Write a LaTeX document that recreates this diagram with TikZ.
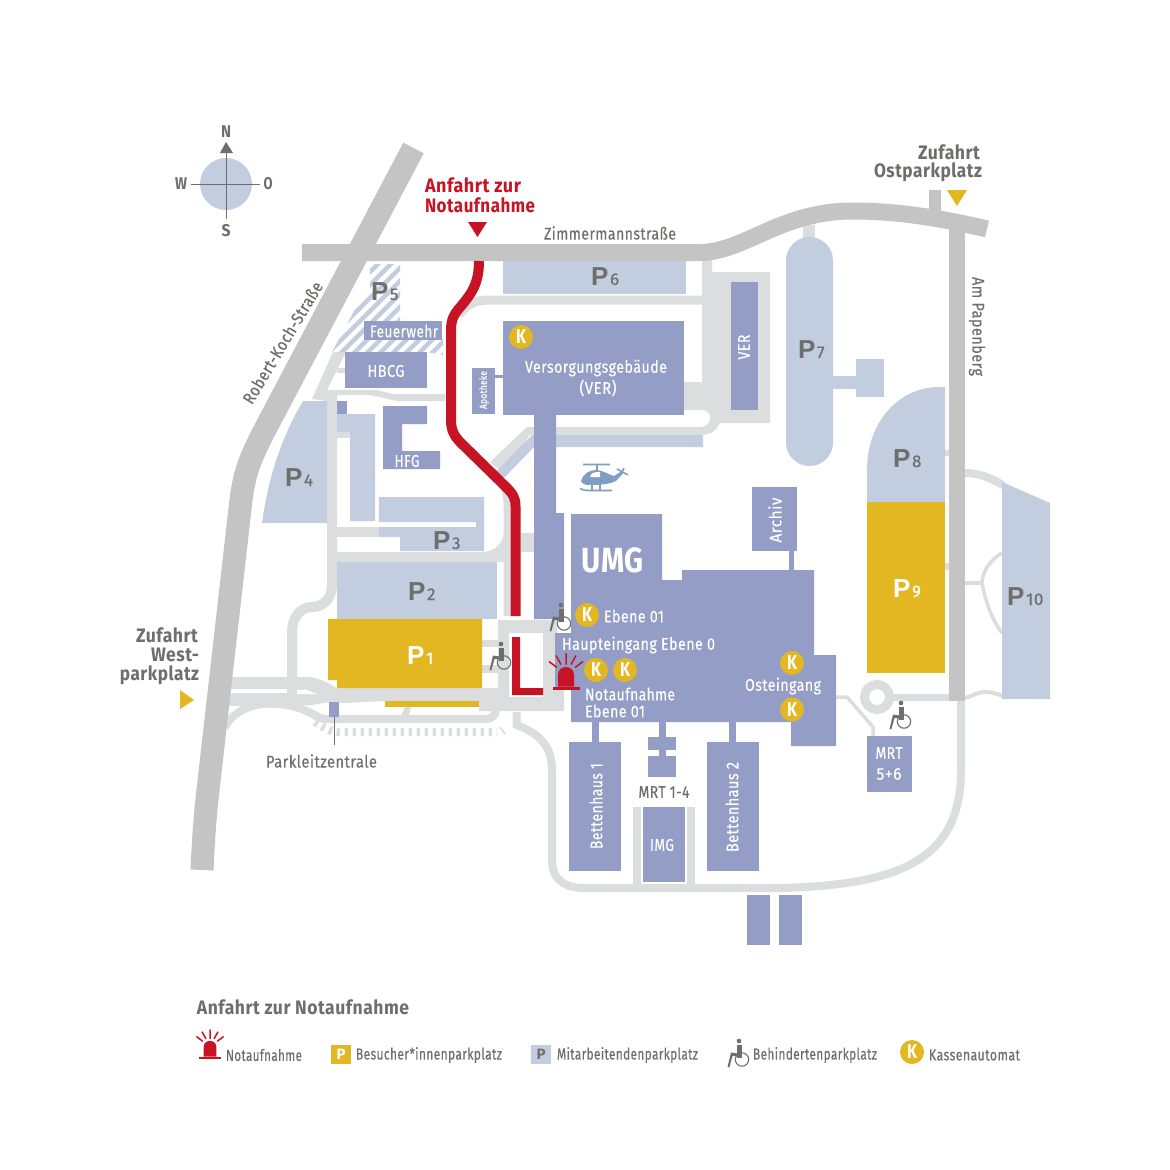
\documentclass[tikz,border=0pt]{standalone}
\usepackage{graphicx}
\usepackage{fontspec}
\setmainfont[LetterSpace=3,FakeBold=0.25,BoldFeatures={FakeBold=0}]{Fira Sans}
\newfontfamily\pfont{Liberation Sans}
\definecolor{bld}{HTML}{939DC6}
\definecolor{prk}{HTML}{C2CDDF}
\definecolor{lane}{HTML}{DCDDDE}
\definecolor{rd}{HTML}{C4C4C4}
\definecolor{gold}{HTML}{E2B721}
\definecolor{alarm}{HTML}{C61425}
\definecolor{txt}{HTML}{6E6E6D}
\definecolor{heli}{HTML}{7F9EC3}
\newcommand\W[2]{\resizebox{#1pt}{\height}{#2}}
\newcommand\plab[1]{{\pfont\bfseries\fontsize{26}{26}\selectfont P}\hspace{1.5pt}{\fontsize{17}{17}\selectfont #1}}
\tikzset{
  lbl/.style={inner sep=0pt,text=txt,font=\fontsize{17}{18}\selectfont},
  wlbl/.style={inner sep=0pt,text=white,font=\fontsize{17}{18}\selectfont},
  leglbl/.style={inner sep=0pt,text=txt,font=\fontsize{16}{17}\selectfont},
  head/.style={inner sep=0pt,text=txt,font=\bfseries\fontsize{19.5}{20}\selectfont},
  rhead/.style={inner sep=0pt,text=alarm,font=\bfseries\fontsize{19.5}{20}\selectfont},
  plot/.style={inner sep=0pt,anchor=base west,text=txt},
  kcirc/.style={circle,fill=gold,minimum size=24pt,inner sep=0pt,text=white,font=\bfseries\fontsize{20}{20}\selectfont},
  road/.style={draw=rd,line width=18pt,line cap=butt},
  lanepath/.style={draw=lane,line width=#1pt},
  chair/.pic={
    \fill[txt] (0,0) circle[radius=2.3pt];
    \fill[txt] (-2.5,3.5) rectangle (2.5,17);
    \fill[txt] (-8,11.5) -- (2.5,13) -- (2.5,15.5) -- (-6.5,15) -- (-9.7,26.5) -- (-11.5,26) -- cycle;
    \draw[txt,line width=1.1pt] (3,18.5) circle[radius=6.7pt];
  },
  beacon/.pic={
    \fill[alarm] (-13.5,15) rectangle (13.5,18.5);
    \fill[alarm] (-8,15) -- (-8,3.5) .. controls (-8,-2) and (-4,-4.5) .. (0,-4.5) .. controls (4,-4.5) and (8,-2) .. (8,3.5) -- (8,15) -- cycle;
    \draw[alarm,line width=1.5pt] (0,-18.5)--(0,-7) (-10,-16)--(-5,-7) (10,-16)--(5,-7) (-17,-10)--(-9,-4) (17,-10)--(9,-4);
  }
}
\newcommand\Kk{\W{10}{K}}
\begin{document}
\begin{tikzpicture}[x=1pt,y=-1pt]
\useasboundingbox (0,0) rectangle (1170,1170);
\fill[white] (0,0) rectangle (1170,1170);

% compass
\fill[prk] (226,184) circle[radius=26pt];
\draw[txt,line width=0.9pt] (226,150)--(226,219) (191,184)--(260,184);
\fill[txt] (226,142)--(233,153)--(220,153)--cycle;
\node[lbl,font=\bfseries\fontsize{17}{17}\selectfont] (north) at (226,132) {\W{10}{N}};
\node[lbl,font=\bfseries\fontsize{17}{17}\selectfont] (west) at (181,184) {\W{12}{W}};
\node[lbl,font=\bfseries\fontsize{17}{17}\selectfont] (east) at (268,184) {\W{9}{O}};
\node[lbl,font=\bfseries\fontsize{17}{17}\selectfont] (south) at (226,231) {\W{9}{S}};

% light lanes
\draw[lanepath=9] (459,315) .. controls (468,303) and (476,300) .. (490,300) -- (702,300);
\fill[lane] (702,260)--(712,260)--(712,272)--(770,272)--(770,423)--(720,423) .. controls (716,431) and (710,435) .. (700,435)--(556,435)--(530,435)--(502,472)--(490,462)--(527,427)--(700,427) .. controls (707,427) and (710,423) .. (710,418) .. controls (710,413) and (707,410) .. (702,410)--(684,410)--(684,382)--(702,382)--cycle;
\draw[lanepath=7] (490,468) .. controls (502,480) and (507,490) .. (507,505) -- (507,616);
\fill[prk] (556,435)--(703,435)--(703,447)--(556,447)--(534,447)--(503,479)--(496,472)--(532,435)--cycle;
\fill[lane] (521,533) rectangle (535,552);
% west part
\fill[lane] (333,352)--(346,352)--(327,390)--(377,390)--(393,394)--(445,394)--(445,401)--(397,401)--(370,395)--(337,395)--(337,401)--(327,401)--(312,399)--cycle;
\fill[lane] (337,368) rectangle (346,373);
\draw[lanepath=10] (332,400) -- (332,585) .. controls (332,600) and (322,607) .. (312,607) .. controls (300,607) and (292,618) .. (292,632) -- (292,684);
\fill[lane] (337,527) rectangle (381,537);
\fill[lane] (337,552) rectangle (506,562);
\fill[lane] (337,432) rectangle (351,438);
\fill[lane] (484,552) .. controls (495,551) and (504,543) .. (504,530) -- (507,562) -- (484,562) -- cycle;
% west entrance
\fill[lane] (228,677)--(305,677) .. controls (318,677) and (327,682) .. (337,688)--(498,688)--(498,701)--(385,701)--(345,703)--(330,702)--(312,705)--(228,706)--cycle;
\fill[white] (228,689) rectangle (287,693);
\fill[white] (297,690)--(306,689.5)--(317,694)--(297,694)--cycle;
\draw[lanepath=8] (225,727) .. controls (230,716) and (245,706) .. (262,704) .. controls (290,702) and (306,710) .. (320,718) .. controls (326,720) and (332,719) .. (340,719) -- (485,719) .. controls (492,719) and (495,716) .. (496,710);
\fill[lane] (405,707)--(411,707)--(409,716)--(401,716)--cycle;
\draw[lane,line width=8pt,dash pattern=on 3.4pt off 4.6pt] (315,722) .. controls (322,727) and (330,732) .. (338,732) -- (497,732);
\draw[lane,line width=1.6pt] (500,727)--(505,734);
% ER yard
\fill[lane,even odd rule] (498,620) -- (557,620) -- (557,690) -- (564,690) -- (564,711) -- (479,711) -- (479,701) -- (498,701) -- cycle (509,633) rectangle (543,697);
\fill[lane] (482,640) rectangle (498,647);
\fill[lane] (482,665) rectangle (498,673);
% east lanes
\draw[lanepath=8] (516.5,712) -- (516.5,725) .. controls (538,733) and (552,745) .. (552,770) -- (552,860) .. controls (552,880) and (565,888) .. (585,888) -- (650,888) -- (780,888) .. controls (900,885) and (961,860) .. (961,770) -- (961,700);
\fill[lane] (633,807) rectangle (641,888);
\fill[lane] (687,807) rectangle (695,888);
\fill[lane] (803,225) rectangle (815,240);
\draw[lanepath=9] (877,697) circle[radius=12.5pt];
\draw[lanepath=7] (889,697) -- (952,697);
\draw[lanepath=3.5] (830,697) -- (847,697) -- (873,727) -- (873,737);
\fill[lane] (945,450) rectangle (950,456);
\fill[lane] (945,563) rectangle (950,570);
\draw[lanepath=8] (965,473) .. controls (980,473) and (990,478) .. (1003,485);
\draw[lanepath=3.5] (965,583) -- (982,583);
\draw[lanepath=3.5] (1002,553) .. controls (990,560) and (982,572) .. (982,583) .. controls (985,600) and (992,620) .. (1002,633);
\draw[lanepath=4] (965,698) .. controls (975,695) and (978,692) .. (985,692) .. controls (990,692) and (995,693) .. (1003,696);

% main roads
\draw[road,line width=23pt] (413.5,148) -- (270,420) .. controls (250,458) and (245,470) .. (241,500) -- (208,790) .. controls (204,825) and (203,850) .. (202,870);
\draw[road,line width=12pt] (935,190) -- (935,216);
\draw[road,line width=16.5pt] (957,220) -- (957,701);
\draw[road,line width=17pt] (302,252.5) -- (700,252.5) .. controls (745,252) and (780,211) .. (853,211) .. controls (900,211) and (945,219) .. (987,229);

% staff parking
\begin{scope}
\clip (370,264)--(400,264)--(400,322)--(443,337)--(443,355)--(427,352)--(332,352)--(360,300)--(370,292)--cycle;
\foreach \k in {0,1,...,20} {\draw[prk,line width=4.5pt] (272+13*\k,370)--(382+13*\k,260);}
\end{scope}
\fill[prk] (503,261) rectangle (686,294);
\fill[prk] (303,401)--(327,401)--(327,523)--(262,523) .. controls (268,480) and (280,440) .. (303,401) -- cycle;
\fill[prk] (337,414)--(375,414)--(375,521)--(350,521)--(350,432)--(337,432)--cycle;
\fill[prk] (379,497)--(484,497)--(484,551)--(400,551)--(400,537)--(379,537)--(379,527)--(476,527)--(476,522)--(379,522)--cycle;
\fill[prk] (337,562) rectangle (497,619);
\fill[prk] (786,260.5) arc[start angle=180,end angle=0,radius=23.5pt] -- (833,442.5) arc[start angle=0,end angle=-180,radius=23.5pt] -- cycle;
\fill[prk] (833,376) rectangle (857,389);
\fill[prk] (856,359) rectangle (884,397);
\fill[prk] (945,387)--(935,387) .. controls (895,390) and (867,425) .. (867,470)--(867,502)--(945,502)--cycle;
\fill[prk] (1002,482)--(1050,503)--(1050,699)--(1002,699)--cycle;

% visitor parking
\fill[gold] (328,619)--(482,619)--(482,688)--(337,688)--(337,680)--(328,680)--cycle;
\fill[gold] (385,701) rectangle (479,707);
\fill[gold] (867,502) rectangle (945,673);

% buildings
\fill[bld] (364,321) rectangle (442,340);
\fill[bld] (345,352) rectangle (427,388);
\fill[bld] (337,401) rectangle (347,414);
\fill[bld] (383,406)--(427,406)--(427,424)--(402,424)--(402,451)--(440,451)--(440,469)--(383,469)--cycle;
\fill[bld] (503,321) rectangle (684,415);
\fill[bld] (472,368) rectangle (495,414);
\fill[bld] (495,375) rectangle (503,378);
\fill[bld] (731,282) rectangle (758,410);
\fill[bld] (534,415)--(556,415)--(556,513)--(564,513)--(564,619)--(534,619)--cycle;
\fill[bld] (571,514)--(662,514)--(662,580)--(682,580)--(682,570)--(814,570)--(814,655)--(836,655)--(836,746)--(791,746)--(791,722)--(571,722)--cycle;
\fill[bld] (555,633) rectangle (572,690);
\fill[bld] (752,487) rectangle (797,551);
\fill[bld] (789,551) rectangle (794,570);
\fill[bld] (569,742) rectangle (621,871);
\fill[bld] (592,722) rectangle (599,742);
\fill[bld] (707,742) rectangle (759,871);
\fill[bld] (729,722) rectangle (736,742);
\fill[bld] (659,722) rectangle (666,757);
\fill[bld] (648,737) rectangle (676,750);
\fill[bld] (648,756) rectangle (676,777);
\fill[bld] (643,807) rectangle (685,882);
\fill[bld] (867,736) rectangle (912,792);
\fill[bld] (747,895) rectangle (770,945);
\fill[bld] (779,895) rectangle (802,945);
\fill[bld] (329,702) rectangle (339,717);

% leader of the Parkleitzentrale
\draw[txt,line width=0.9pt] (334,717) -- (334,745);

% route
\draw[alarm,line width=10pt] (479,261) .. controls (479,285) and (470,295) .. (462,305) .. controls (455,313) and (451,318) .. (451,330) -- (451,420) .. controls (451,430) and (454,436) .. (461,443) -- (506,487) .. controls (513,494) and (515.5,498) .. (515.5,506) -- (515.5,616);
\fill[alarm] (512,637)--(520,637)--(520,688)--(543,688)--(543,695)--(512,695)--cycle;
\fill[alarm] (468,222)--(487,222)--(477.5,237)--cycle;
\fill[gold] (947,190)--(967,190)--(957,206)--cycle;
\fill[gold] (180,690)--(194,700)--(180,709)--cycle;

% helicopter
\fill[heli] (581,481) .. controls (583,474) and (589,470) .. (596,470) .. controls (603,470) and (609,475) .. (614,476) -- (622,471) -- (623,473) -- (616,481) .. controls (612,483) and (605,485) .. (590,485) .. controls (585,485) and (582,484) .. (581,481) -- cycle;
\fill[white] (590,477) .. controls (591,473) and (594,472) .. (597,472) -- (600,472) -- (600,477) -- cycle;
\draw[heli,line width=1.6pt] (583,464.5)--(610,464.5) (597,464.5)--(597,471) (592,484)--(592,490) (600,484)--(600,490) (580,488.5) .. controls (583,490) and (585,490.5) .. (588,490.5) -- (612,490.5) (617,469)--(628,475) (620,476)--(624,468);

% wheelchairs and beacons
\pic at (561,605) {chair};
\pic at (501,644) {chair};
\pic at (901,703) {chair};
\pic at (739,1041) {chair};
\pic at (566,671.5) {beacon};
\pic[scale=0.8,transform shape] at (210,1044.5) {beacon};

% cash points
\node[kcirc] (k1) at (521,337) {\Kk};
\node[kcirc] (k2) at (587,615) {\Kk};
\node[kcirc] (k3) at (596,670) {\Kk};
\node[kcirc] (k4) at (625,670) {\Kk};
\node[kcirc] (k5) at (792,663) {\Kk};
\node[kcirc] (k6) at (792,709.5) {\Kk};

% parking labels
\node[plot] (p1) at (407,664) {\textcolor{white}{\plab{1}}};
\node[plot] (p2) at (408,600) {\plab{2}};
\node[plot] (p3) at (433,549) {\plab{3}};
\node[plot] (p4) at (285,486) {\plab{4}};
\node[plot] (p5) at (371,300) {\plab{5}};
\node[plot] (p6) at (591,285) {\plab{6}};
\node[plot] (p7) at (798,358) {\plab{7}};
\node[plot] (p8) at (893,467) {\plab{8}};
\node[plot] (p9) at (893,597) {\textcolor{white}{\plab{9}}};
\node[plot] (p10) at (1007,605) {\plab{10}};

% place names
\node[rhead] (a1) at (473,185) {\W{96}{Anfahrt zur}};
\node[rhead] (a2) at (480,205) {\W{110}{Notaufnahme}};
\node[head] (o1) at (949,152) {\W{62}{Zufahrt}};
\node[head] (o2) at (928,172) {\W{108}{Ostparkplatz}};
\node[head] (w1) at (167,635) {\W{62}{Zufahrt}};
\node[head] (w2) at (175,655) {\W{48}{West-}};
\node[head] (w3) at (159.5,675) {\W{79}{parkplatz}};
\node[lbl] (zim) at (610,233) {\W{132}{Zimmermannstraße}};
\node[lbl,rotate=59] (rks) at (282.5,342.5) {\W{139}{Robert-Koch-Straße}};
\node[lbl,rotate=-90] (pap) at (977,326.5) {\W{99}{Am Papenberg}};
\node[wlbl] (feu) at (404,331) {\W{68}{Feuerwehr}};
\node[wlbl] (hbcg) at (386,371) {\W{37}{HBCG}};
\node[wlbl] (hfg) at (407,461) {\W{25}{HFG}};
\node[wlbl] (ver1) at (596,368) {\W{142}{Versorgungsgebäude}};
\node[wlbl] (ver2) at (598,388) {\W{37}{(VER)}};
\node[wlbl,rotate=90,font=\fontsize{10.5}{11}\selectfont] (apo) at (484,390) {\W{38}{Apotheke}};
\node[wlbl,rotate=90] (ver3) at (744,347) {\W{25}{VER}};
\node[wlbl,rotate=90] (arc) at (775,520) {\W{45}{Archiv}};
\node[wlbl,font=\bfseries\fontsize{35}{35}\selectfont] (umg) at (612.5,560) {\W{63}{UMG}};
\node[wlbl] (e1) at (634,616) {\W{60}{Ebene 01}};
\node[wlbl] (hpt) at (638.5,645) {\W{153}{Haupteingang Ebene 0}};
\node[wlbl] (nfa) at (630,694) {\W{90}{Notaufnahme}};
\node[wlbl] (e2) at (615,711) {\W{60}{Ebene 01}};
\node[wlbl] (ost) at (783,686) {\W{76}{Osteingang}};
\node[wlbl,rotate=90] (b1) at (596,806) {\W{86}{Bettenhaus 1}};
\node[wlbl,rotate=90] (b2) at (732,807) {\W{90}{Bettenhaus 2}};
\node[lbl] (mrt) at (664,792) {\W{51}{MRT 1-4}};
\node[wlbl] (img) at (662,845) {\W{24}{IMG}};
\node[wlbl] (m56a) at (889,753) {\W{27}{MRT}};
\node[wlbl] (m56b) at (889,774) {\W{25}{5+6}};
\node[lbl] (plz) at (321.5,761) {\W{111}{Parkleitzentrale}};

% legend
\node[head] (leg) at (303,1007) {\W{212}{Anfahrt zur Notaufnahme}};
\node[leglbl] (l1) at (264,1055) {\W{76}{Notaufnahme}};
\fill[gold] (331,1045) rectangle (351,1064);
\node[inner sep=0pt,text=white,font=\bfseries\fontsize{15}{15}\selectfont] (lp1) at (341,1054.5) {P};
\node[leglbl] (l2) at (429,1055) {\W{146}{Besucher*innenparkplatz}};
\fill[prk] (531,1045) rectangle (551,1064);
\node[inner sep=0pt,text=txt,font=\bfseries\fontsize{15}{15}\selectfont] (lp2) at (541,1054.5) {P};
\node[leglbl] (l3) at (627.5,1055) {\W{141}{Mitarbeitendenparkplatz}};
\node[leglbl] (l4) at (815,1055) {\W{124}{Behindertenparkplatz}};
\node[kcirc] (lk) at (912,1052) {\Kk};
\node[leglbl] (l5) at (974.5,1055) {\W{91}{Kassenautomat}};
\end{tikzpicture}
\end{document}
